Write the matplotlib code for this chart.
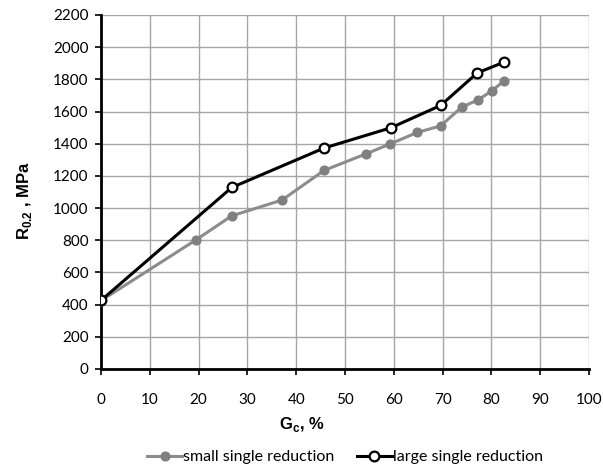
import matplotlib
matplotlib.use('Agg')

import matplotlib.pyplot as plt

plt.rcParams['font.family'] = ['Lato', 'DejaVu Sans']
plt.rcParams['mathtext.fontset'] = 'custom'
plt.rcParams['mathtext.rm'] = 'Liberation Sans'
plt.rcParams['mathtext.bf'] = 'Liberation Sans:bold'

# reduction degree Gc (%) vs yield strength R0.2 (MPa)
gc_small = [0, 19.5, 26.8, 37.1, 45.7, 54.3, 59.2, 64.8, 69.6, 73.9, 77.3, 80.1, 82.6]
r_small = [425, 803, 952, 1050, 1234, 1337, 1398, 1470, 1511, 1627, 1673, 1729, 1791]

gc_large = [0, 26.8, 45.7, 59.4, 69.6, 77.1, 82.6]
r_large = [426, 1128, 1373, 1499, 1638, 1840, 1907]

DPI = 100
fig = plt.figure(figsize=(603/DPI, 468/DPI), dpi=DPI)
ax = fig.add_axes([101/603, 99/468, 488/603, 354/468])

ax.plot(gc_small, r_small, '-o', color='#8c8c8c', lw=2.2, ms=6.3,
        mfc='#808080', mec='#808080', label='small single reduction', zorder=3)
ax.plot(gc_large, r_large, '-o', color='black', lw=2.2, ms=7,
        mfc='white', mec='black', mew=1.6, label='large single reduction', zorder=4)

ax.set_xlim(0, 100)
ax.set_ylim(0, 2200)
ax.set_xticks(range(0, 101, 10))
ax.set_yticks(range(0, 2201, 200))
ax.grid(True, color='#a6a6a6', lw=1)
ax.set_axisbelow(True)

for s in ['top', 'right']:
    ax.spines[s].set_visible(False)
for s in ['left', 'bottom']:
    ax.spines[s].set_linewidth(2)
ax.tick_params(direction='out', length=4, width=1.2, labelsize=11, pad=5)
ax.tick_params(axis='x', pad=13)

# axis titles placed like the Excel original (x title centred on the figure)
ax.set_xlabel('G$_\\mathbf{c}$, %', fontsize=12, fontweight='bold', va='center',
              family='Liberation Sans')
ax.xaxis.set_label_coords(0.412, -0.158)
ax.set_ylabel('R$_\\mathbf{0.2}$ , MPa', fontsize=12, fontweight='bold', va='center',
              family='Liberation Sans')
ax.yaxis.set_label_coords(-0.156, 0.475)

ax.legend(loc='center', bbox_to_anchor=(0.5, -0.249), ncol=2, frameon=False,
          fontsize=11.5, handlelength=2.2, handletextpad=0.05, columnspacing=1.4,
          borderaxespad=0, borderpad=0)

plt.savefig('out.png', dpi=DPI)
